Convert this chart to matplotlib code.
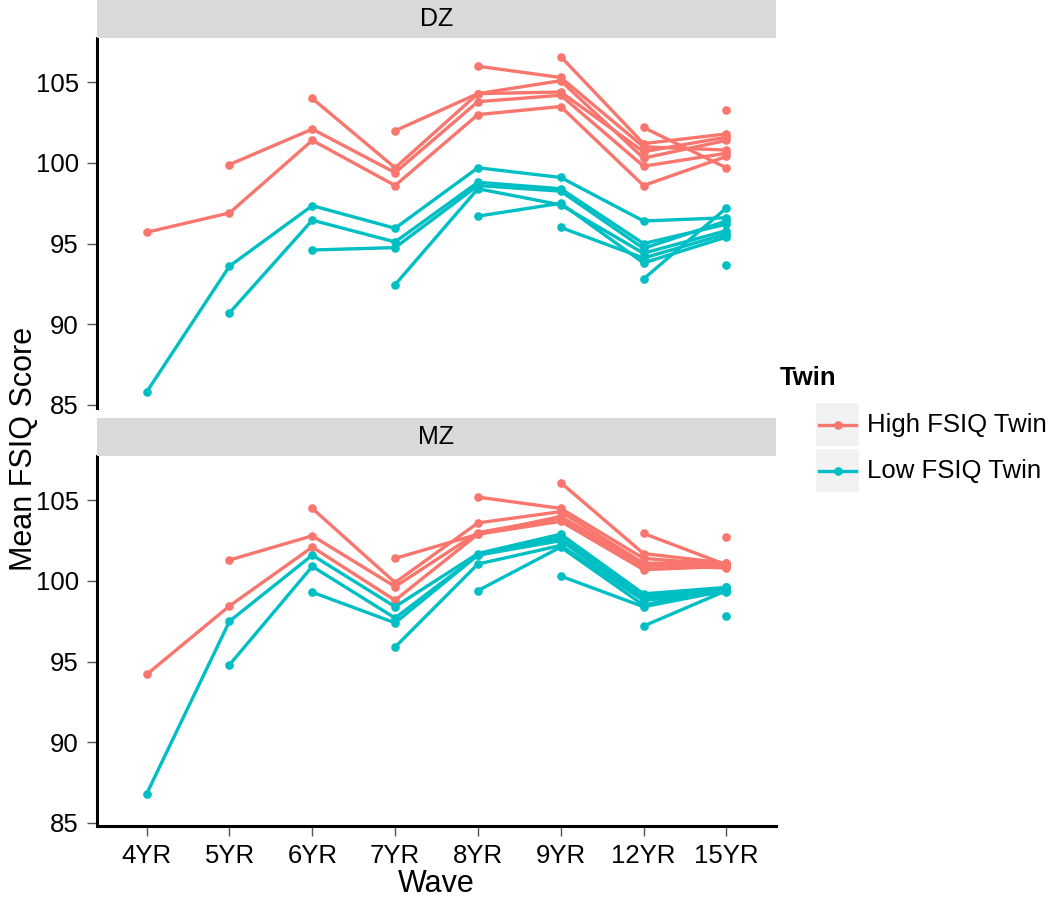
import numpy as np
import matplotlib
matplotlib.use("Agg")
import matplotlib.pyplot as plt
from matplotlib.patches import Rectangle
from matplotlib.lines import Line2D

plt.rcParams['font.family'] = ['Liberation Sans', 'DejaVu Sans']

waves = ["4YR", "5YR", "6YR", "7YR", "8YR", "9YR", "12YR", "15YR"]
nan = np.nan

# one row per cohort (cohort starts at the wave where its first value is)
dz_high = [
    [95.7, 96.9, 101.4, 98.6, 103.0, 103.5, 98.6, 100.4],
    [nan, 99.9, 102.1, 99.4, 103.8, 104.2, 99.8, 100.6],
    [nan, nan, 104.0, 99.7, 104.3, 105.1, 100.3, 101.4],
    [nan, nan, nan, 102.0, 104.3, 104.4, 100.7, 101.6],
    [nan, nan, nan, nan, 106.0, 105.3, 101.0, 100.8],
    [nan, nan, nan, nan, nan, 106.6, 101.2, 101.8],
    [nan, nan, nan, nan, nan, nan, 102.2, 99.7],
    [nan, nan, nan, nan, nan, nan, nan, 103.3],
]
dz_low = [
    [85.8, 93.6, 97.35, 95.95, 99.7, 99.1, 96.4, 96.6],
    [nan, 90.7, 96.45, 95.1, 98.8, 98.4, 95.0, 96.2],
    [nan, nan, 94.6, 94.75, 98.6, 98.25, 94.7, 96.4],
    [nan, nan, nan, 92.45, 98.4, 97.4, 94.4, 95.8],
    [nan, nan, nan, nan, 96.7, 97.5, 93.8, 95.4],
    [nan, nan, nan, nan, nan, 96.0, 94.1, 95.6],
    [nan, nan, nan, nan, nan, nan, 92.8, 97.2],
    [nan, nan, nan, nan, nan, nan, nan, 93.7],
]
mz_high = [
    [94.2, 98.45, 102.1, 98.8, 102.9, 103.7, 100.7, 100.9],
    [nan, 101.3, 102.8, 99.65, 103.0, 103.9, 100.9, 101.0],
    [nan, nan, 104.5, 99.9, 103.6, 104.3, 101.1, 101.1],
    [nan, nan, nan, 101.4, 102.9, 104.0, 101.0, 100.8],
    [nan, nan, nan, nan, 105.2, 104.5, 101.4, 101.0],
    [nan, nan, nan, nan, nan, 106.1, 101.7, 101.1],
    [nan, nan, nan, nan, nan, nan, 102.95, 101.0],
    [nan, nan, nan, nan, nan, nan, nan, 102.7],
]
mz_low = [
    [86.8, 97.5, 101.6, 98.4, 101.7, 102.9, 99.2, 99.6],
    [nan, 94.8, 100.9, 97.7, 101.6, 102.7, 99.0, 99.5],
    [nan, nan, 99.3, 97.4, 101.6, 102.5, 98.9, 99.4],
    [nan, nan, nan, 95.9, 101.05, 102.2, 98.8, 99.3],
    [nan, nan, nan, nan, 99.4, 102.1, 98.5, 99.6],
    [nan, nan, nan, nan, nan, 100.3, 98.4, 99.4],
    [nan, nan, nan, nan, nan, nan, 97.2, 99.4],
    [nan, nan, nan, nan, nan, nan, nan, 97.8],
]

panels = [("DZ", dz_high, dz_low), ("MZ", mz_high, mz_low)]
c_high = "#F8766D"
c_low = "#00BFC4"
lw, ms = 2.4, 5.2

W, H = 1050, 898
fig = plt.figure(figsize=(W / 100, H / 100), dpi=100)

def fx(px):
    return px / W

def fy(py):
    return 1 - py / H

# pixel boxes (strip top, panel top, panel bottom)
boxes = [(0, 38, 408), (418, 456, 826)]
left, right = 97, 776
x = np.arange(len(waves))

for (name, hi, lo), (s_top, p_top, p_bot) in zip(panels, boxes):
    ax = fig.add_axes([fx(left), fy(p_bot), fx(right - left), (p_bot - p_top) / H])
    for row in hi:
        ax.plot(x, row, color=c_high, lw=lw, marker="o", ms=ms)
    for row in lo:
        ax.plot(x, row, color=c_low, lw=lw, marker="o", ms=ms)
    ax.set_xlim(-0.6, 7.6)
    ax.set_ylim(84.8, 107.75)
    ax.set_yticks([85, 90, 95, 100, 105])
    ax.set_xticks(x)
    for s in ["top", "right"]:
        ax.spines[s].set_visible(False)
    ax.spines["left"].set_linewidth(2.2)
    ax.spines["bottom"].set_linewidth(2.2)
    ax.tick_params(axis="both", length=7, width=1, color="#555555",
                   labelsize=18.5, pad=6)
    if name == "DZ":
        ax.spines["bottom"].set_visible(False)
        ax.tick_params(axis="x", bottom=False, labelbottom=False)
    else:
        ax.set_xticklabels(waves)

    # facet strip
    sax = fig.add_axes([fx(left), fy(p_top), fx(right - left), (p_top - s_top) / H])
    sax.set_facecolor("#D9D9D9")
    sax.set_xticks([])
    sax.set_yticks([])
    for s in sax.spines.values():
        s.set_visible(False)
    sax.text(0.5, 0.5, name, ha="center", va="center", fontsize=18,
             transform=sax.transAxes)

fig.text(fx(436), fy(884), "Wave", ha="center", va="center", fontsize=22)
fig.text(fx(24), fy(449), "Mean FSIQ Score", ha="center", va="center",
         rotation=90, fontsize=22)

# legend
lax = fig.add_axes([0, 0, 1, 1], facecolor="none")
lax.set_xlim(0, W)
lax.set_ylim(H, 0)
lax.axis("off")
lax.text(780, 378, "Twin", fontsize=18.5, fontweight="bold", va="center", ha="left")
for i, (lab, col) in enumerate([("High FSIQ Twin", c_high), ("Low FSIQ Twin", c_low)]):
    top = 403 + i * 46
    lax.add_patch(Rectangle((816, top), 43, 43, facecolor="#F2F2F2", edgecolor="none"))
    lax.add_line(Line2D([819, 856], [top + 21.5, top + 21.5], color=col, lw=lw))
    lax.plot(837.5, top + 21.5, "o", color=col, ms=ms)
    lax.text(867, top + 22, lab, fontsize=18.5, va="center", ha="left")

fig.savefig("out.png", dpi=100)
